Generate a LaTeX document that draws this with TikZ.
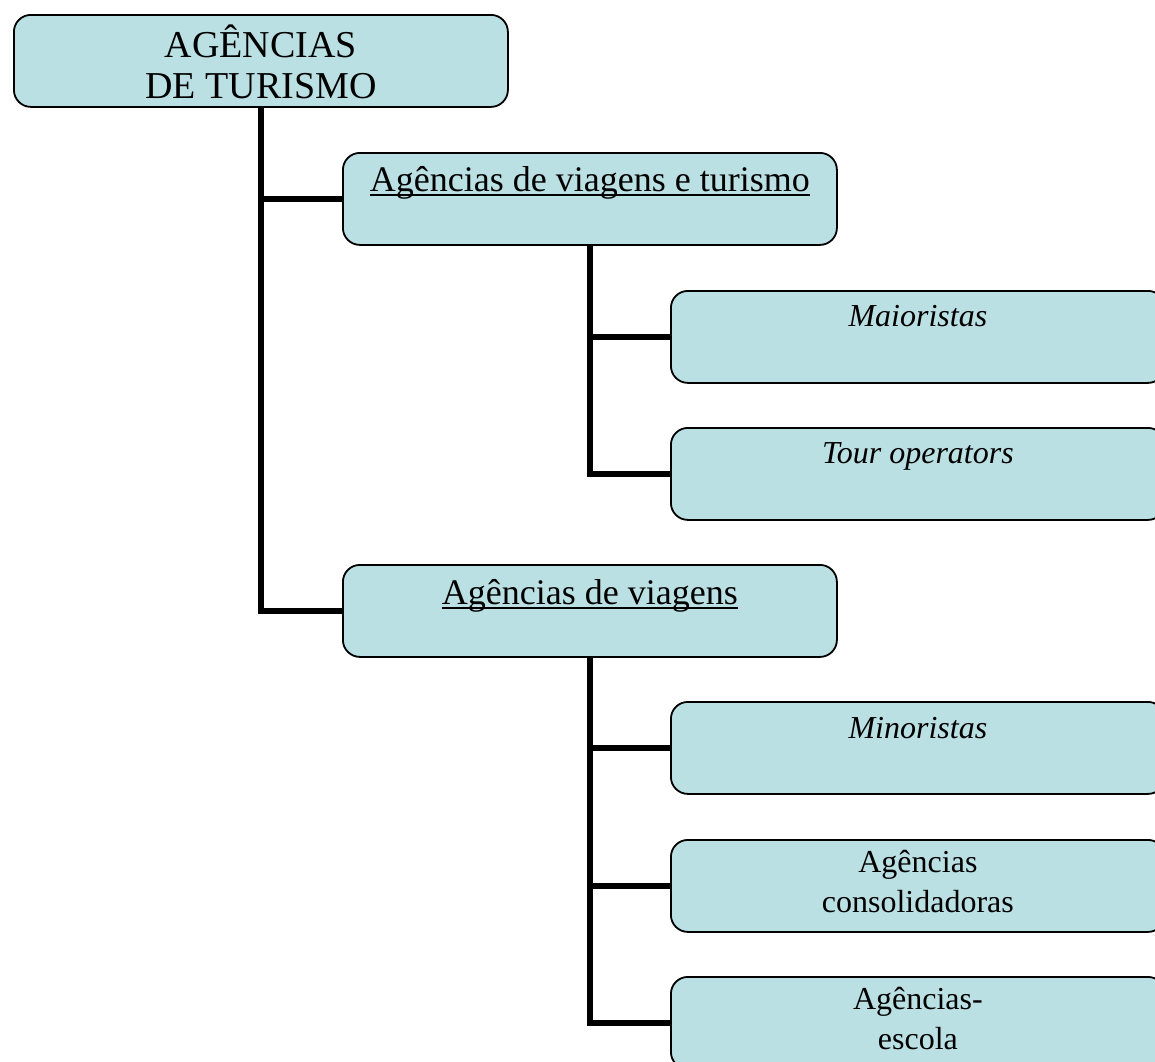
\documentclass[tikz,border=0pt]{standalone}
\usepackage{fontspec}
\setmainfont{Liberation Serif}
\usetikzlibrary{backgrounds}
\definecolor{boxfill}{HTML}{BAE0E3}
\tikzset{
  orgbox/.style={draw=black, line width=1.8pt, fill=boxfill, rounded corners=17pt,
    minimum width=494pt, minimum height=92pt, anchor=north west, inner sep=0pt},
  boxtext/.style={anchor=base, align=center, inner sep=0pt},
  link/.style={line width=6pt, line join=miter},
}
% underline drawn as a rule a little below the baseline
\newcommand{\uline}[1]{\setbox0\hbox{#1}\rlap{\rule[-5pt]{\wd0}{2pt}}\box0}
\begin{document}
\begin{tikzpicture}[x=1pt,y=-1pt]
\useasboundingbox (0,0) rectangle (1155,1061);
\clip (0,0) rectangle (1155,1061);

% boxes
\node[orgbox] (top) at (13,14) {};
\node[orgbox] (avt) at (342,152) {};
\node[orgbox] (mai) at (670,290) {};
\node[orgbox] (tour) at (670,427) {};
\node[orgbox] (av) at (342,564) {};
\node[orgbox] (min) at (670,701) {};
\node[orgbox] (cons) at (670,839) {};
\node[orgbox] (esc) at (670,976) {};

% connectors, behind the boxes
\begin{scope}[on background layer]
\draw[link] (top.south) |- (av.west);
\draw[link] (top.south |- avt.west) -- (avt.west);
\draw[link] (avt.south) |- (tour.west);
\draw[link] (avt.south |- mai.west) -- (mai.west);
\draw[link] (av.south) |- (esc.west);
\draw[link] (av.south |- min.west) -- (min.west);
\draw[link] (av.south |- cons.west) -- (cons.west);
\end{scope}

% labels (base = baseline of the last line)
\node[boxtext, font=\fontsize{38}{41}\selectfont] (ttop) at ([yshift=-84pt]top.north)
  {AGÊNCIAS\\DE TURISMO};
\node[boxtext, font=\fontsize{36}{40}\selectfont] (tavt) at ([yshift=-39pt]avt.north)
  {\uline{Agências de viagens e turismo}};
\node[boxtext, font=\fontsize{32}{40}\selectfont\itshape] (tmai) at ([yshift=-36pt]mai.north)
  {Maioristas};
\node[boxtext, font=\fontsize{32}{40}\selectfont\itshape] (ttour) at ([yshift=-36pt]tour.north)
  {Tour operators};
\node[boxtext, font=\fontsize{36}{40}\selectfont] (tav) at ([yshift=-40pt]av.north)
  {\uline{Agências de viagens}};
\node[boxtext, font=\fontsize{32}{40}\selectfont\itshape] (tmin) at ([yshift=-37pt]min.north)
  {Minoristas};
\node[boxtext, font=\fontsize{32}{40}\selectfont] (tcons) at ([yshift=-73pt]cons.north)
  {Agências\\consolidadoras};
\node[boxtext, font=\fontsize{32}{40}\selectfont] (tesc) at ([yshift=-73pt]esc.north)
  {Agências-\\escola};
\end{tikzpicture}
\end{document}
